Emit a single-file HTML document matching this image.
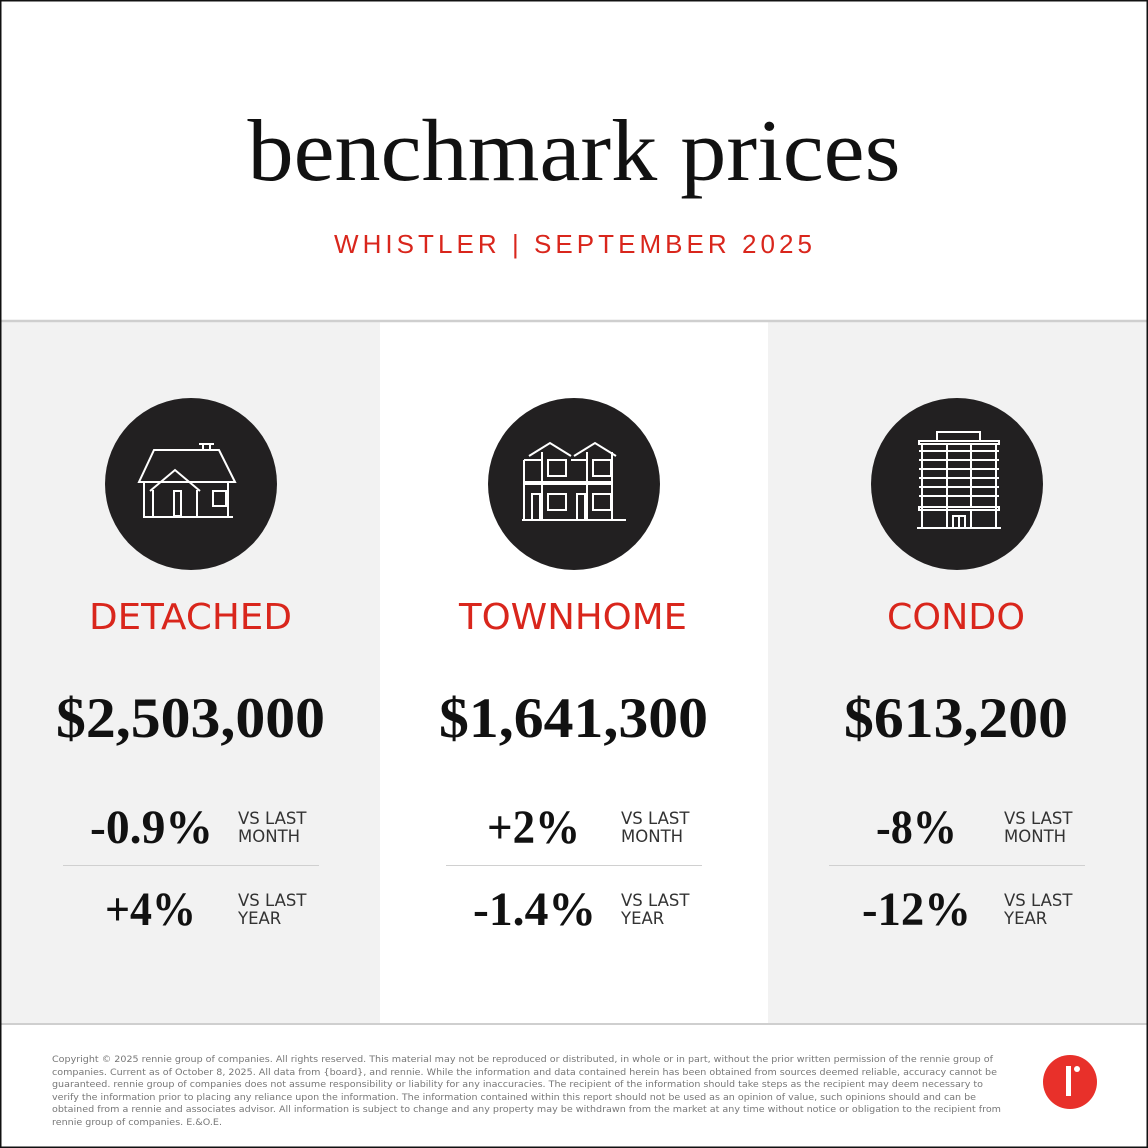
<!DOCTYPE html>
<html><head><meta charset="utf-8"><style>
html,body{margin:0;padding:0;background:#fff}
svg{display:block}
</style></head><body>
<svg width="1148" height="1148" viewBox="0 0 1148 1148" xmlns="http://www.w3.org/2000/svg">
<rect x="0" y="0" width="1148" height="1148" fill="#fff"/>
<rect x="0" y="321" width="380" height="703" fill="#f2f2f2"/>
<rect x="768" y="321" width="380" height="703" fill="#f2f2f2"/>
<line x1="0" y1="321" x2="1148" y2="321" stroke="#cfcfcf" stroke-width="2.5"/>
<line x1="0" y1="1024" x2="1148" y2="1024" stroke="#cfcfcf" stroke-width="2"/>
<rect x="0.5" y="0.5" width="1147" height="1147" fill="none" stroke="#111" stroke-width="2"/>

<text x="574" y="180" text-anchor="middle" font-family="Liberation Serif, serif" font-size="88" fill="#111" textLength="653" lengthAdjust="spacingAndGlyphs">benchmark prices</text>
<text x="573" y="253" text-anchor="middle" font-family="Liberation Sans, sans-serif" font-size="26" fill="#d9261c" textLength="478" lengthAdjust="spacing">WHISTLER | SEPTEMBER 2025</text>

<g fill="#222021"><circle cx="191" cy="484" r="86"/><circle cx="574" cy="484" r="86"/><circle cx="957" cy="484" r="86"/></g>

<!-- detached icon -->
<g fill="none" stroke="#fff" stroke-width="2">
<path d="M143 517H233"/>
<path d="M154 450H219L235 482H139Z"/>
<path d="M203 444V450M210 444V450M199 444H214"/>
<path d="M144 482V516M153 490V516M228 482V516M197 490V516"/>
<path d="M150 491L175 470L200 491"/>
<path d="M174 491H181V516H174Z"/>
<path d="M213 491H226V506H213Z"/>
</g>
<!-- townhome icon -->
<g fill="none" stroke="#fff" stroke-width="2">
<path d="M522 520H626"/>
<path d="M508 0"/>
<path d="M529 456L550 443L571 456M574 456L595 443L616 456"/>
<path d="M542 452V520M587 452V520M612 452V520M524 460V520M524 460H542M571 460H587"/>
<path d="M524 484H612M524 482H612"/>
<path d="M548 460H566V476H548Z M593 460H611V476H593Z"/>
<path d="M548 494H566V510H548Z M593 494H611V510H593Z"/>
<path d="M532 494H540V520H532Z M577 494H585V520H577Z"/>
</g>
<!-- condo icon -->
<g fill="none" stroke="#fff" stroke-width="2">
<path d="M937 432H980V441H937Z"/>
<path d="M919 441H999V444H919Z"/>
<path d="M919 507H999V510H919Z"/>
<path d="M922 444V528M947 444V528M971 444V507M996 444V528M971 510V528"/>
<path d="M919 451H999M919 460H999M919 469H999M919 478H999M919 487H999M919 496H999"/>
<path d="M917 528H1001"/>
<path d="M953 516H965V528H953ZM959 516V528"/>
</g>

<g font-family="DejaVu Sans, sans-serif" fill="#d9261c" font-size="36">
<text x="190.5" y="629" text-anchor="middle" textLength="203" lengthAdjust="spacingAndGlyphs">DETACHED</text>
<text x="573" y="629" text-anchor="middle" textLength="228" lengthAdjust="spacingAndGlyphs">TOWNHOME</text>
<text x="956" y="629" text-anchor="middle" textLength="138" lengthAdjust="spacingAndGlyphs">CONDO</text>
</g>

<g font-family="Liberation Serif, serif" font-weight="bold" fill="#111" font-size="57">
<text x="190.5" y="737" text-anchor="middle" textLength="269" lengthAdjust="spacingAndGlyphs">$2,503,000</text>
<text x="573.5" y="737" text-anchor="middle" textLength="269" lengthAdjust="spacingAndGlyphs">$1,641,300</text>
<text x="956" y="737" text-anchor="middle" textLength="224" lengthAdjust="spacingAndGlyphs">$613,200</text>
</g>

<g font-family="Liberation Serif, serif" font-weight="bold" fill="#111" font-size="48">
<text x="151.5" y="843" text-anchor="middle" textLength="123" lengthAdjust="spacingAndGlyphs">-0.9%</text>
<text x="150.5" y="925" text-anchor="middle" textLength="91" lengthAdjust="spacingAndGlyphs">+4%</text>
<text x="533.5" y="843" text-anchor="middle" textLength="93" lengthAdjust="spacingAndGlyphs">+2%</text>
<text x="534.5" y="925" text-anchor="middle" textLength="123" lengthAdjust="spacingAndGlyphs">-1.4%</text>
<text x="916.5" y="843" text-anchor="middle" textLength="81" lengthAdjust="spacingAndGlyphs">-8%</text>
<text x="916.5" y="925" text-anchor="middle" textLength="109" lengthAdjust="spacingAndGlyphs">-12%</text>
</g>

<g font-family="DejaVu Sans, sans-serif" fill="#333" font-size="16.5">
<text x="238" y="824">VS LAST</text><text x="238" y="842">MONTH</text>
<text x="238" y="906">VS LAST</text><text x="238" y="924">YEAR</text>
<text x="621" y="824">VS LAST</text><text x="621" y="842">MONTH</text>
<text x="621" y="906">VS LAST</text><text x="621" y="924">YEAR</text>
<text x="1004" y="824">VS LAST</text><text x="1004" y="842">MONTH</text>
<text x="1004" y="906">VS LAST</text><text x="1004" y="924">YEAR</text>
</g>
<g stroke="#d0d0d0" stroke-width="1">
<line x1="63" y1="865.5" x2="319" y2="865.5"/>
<line x1="446" y1="865.5" x2="702" y2="865.5"/>
<line x1="829" y1="865.5" x2="1085" y2="865.5"/>
</g>

<g font-family="DejaVu Sans, sans-serif" fill="#777" font-size="8.5" lengthAdjust="spacingAndGlyphs">
<text x="52" y="1062" textLength="941" lengthAdjust="spacingAndGlyphs">Copyright © 2025 rennie group of companies. All rights reserved. This material may not be reproduced or distributed, in whole or in part, without the prior written permission of the rennie group of</text>
<text x="52" y="1075" textLength="945" lengthAdjust="spacingAndGlyphs">companies. Current as of October 8, 2025. All data from {board}, and rennie. While the information and data contained herein has been obtained from sources deemed reliable, accuracy cannot be</text>
<text x="52" y="1087" textLength="931" lengthAdjust="spacingAndGlyphs">guaranteed. rennie group of companies does not assume responsibility or liability for any inaccuracies. The recipient of the information should take steps as the recipient may deem necessary to</text>
<text x="52" y="1100" textLength="924" lengthAdjust="spacingAndGlyphs">verify the information prior to placing any reliance upon the information. The information contained within this report should not be used as an opinion of value, such opinions should and can be</text>
<text x="52" y="1112" textLength="949" lengthAdjust="spacingAndGlyphs">obtained from a rennie and associates advisor. All information is subject to change and any property may be withdrawn from the market at any time without notice or obligation to the recipient from</text>
<text x="52" y="1125" textLength="170" lengthAdjust="spacingAndGlyphs">rennie group of companies. E.&amp;O.E.</text>
</g>

<circle cx="1070" cy="1082" r="27" fill="#e8302a"/>
<rect x="1066" y="1066" width="5" height="30" fill="#fff"/>
<circle cx="1077" cy="1069" r="3" fill="#fff"/>
</svg>
</body></html>
